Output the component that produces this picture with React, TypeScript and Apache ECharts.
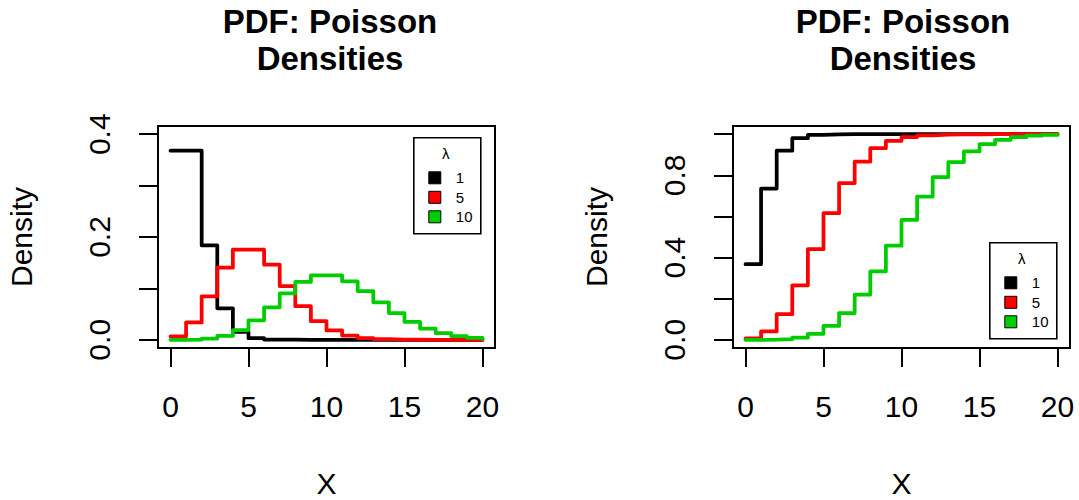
import React, { useEffect, useRef } from "react";
import * as echarts from "echarts";

// Support of the distributions
const xValues = [0, 1, 2, 3, 4, 5, 6, 7, 8, 9, 10, 11, 12, 13, 14, 15, 16, 17, 18, 19, 20];

const lambdas = ["1", "5", "10"];
const colors = ["#000000", "#FF0000", "#00CD00"];

// Poisson probability mass
const pdfLambda1 = [0.367879, 0.367879, 0.18394, 0.061313, 0.015328, 0.003066, 0.000511, 0.000073, 0.000009, 0.000001, 0, 0, 0, 0, 0, 0, 0, 0, 0, 0, 0];
const pdfLambda5 = [0.006738, 0.03369, 0.084224, 0.140374, 0.175467, 0.175467, 0.146223, 0.104445, 0.065278, 0.036266, 0.018133, 0.008242, 0.003434, 0.001321, 0.000472, 0.000157, 0.000049, 0.000014, 0.000004, 0.000001, 0];
const pdfLambda10 = [0.000045, 0.000454, 0.00227, 0.007567, 0.018917, 0.037833, 0.063055, 0.090079, 0.112599, 0.12511, 0.12511, 0.113736, 0.09478, 0.072908, 0.052077, 0.034718, 0.021699, 0.012764, 0.007091, 0.003732, 0.001866];

// Cumulative distribution
const cdfLambda1 = [0.367879, 0.735759, 0.919699, 0.981012, 0.99634, 0.999406, 0.999917, 0.99999, 0.999999, 1, 1, 1, 1, 1, 1, 1, 1, 1, 1, 1, 1];
const cdfLambda5 = [0.006738, 0.040428, 0.124652, 0.265026, 0.440493, 0.615961, 0.762183, 0.866628, 0.931906, 0.968172, 0.986305, 0.994547, 0.997981, 0.999302, 0.999774, 0.999931, 0.99998, 0.999995, 0.999999, 1, 1];
const cdfLambda10 = [0.000045, 0.000499, 0.002769, 0.010336, 0.029253, 0.067086, 0.130141, 0.220221, 0.33282, 0.45793, 0.58304, 0.696776, 0.791556, 0.864464, 0.916542, 0.95126, 0.972958, 0.985722, 0.992813, 0.996546, 0.998412];

const xTicks = [0, 5, 10, 15, 20];
const pdfTicks = [0, 0.1, 0.2, 0.3, 0.4];
const pdfLabels = [0, 0.2, 0.4];
const cdfTicks = [0, 0.2, 0.4, 0.6, 0.8, 1.0];
const cdfLabels = [0, 0.4, 0.8];

const titleLines = ["PDF: Poisson", "Densities"];
const xName = "X";
const yName = "Density";

const FONT = "'Liberation Sans', Arial, Helvetica, sans-serif";

const pairs = (ys: number[]) => xValues.map((x, i) => [x, ys[i]]);

function legendGraphic(left: number, top: number) {
  const textStyle = { fontSize: 15, fontFamily: FONT, fill: "#000" };
  const children: any[] = [
    {
      type: "rect",
      shape: { x: 0, y: 0, width: 67, height: 96 },
      style: { fill: "#fff", stroke: "#000", lineWidth: 1.6 },
    },
    {
      type: "text",
      x: 32,
      y: 16,
      style: { ...textStyle, text: "λ", align: "center", verticalAlign: "middle" },
    },
  ];
  lambdas.forEach((name, i) => {
    const cy = 40 + i * 19.5;
    children.push({
      type: "rect",
      shape: { x: 15, y: cy - 6, width: 12, height: 12 },
      style: { fill: colors[i], stroke: "#000", lineWidth: 1 },
    });
    children.push({
      type: "text",
      x: 42,
      y: cy,
      style: { ...textStyle, text: name, align: "left", verticalAlign: "middle" },
    });
  });
  return { type: "group", left, top, z: 100, children };
}

// Two-line bold heading, one title entry per line
function titles(centerX: number) {
  return titleLines.map((line, i) => ({
    text: line,
    left: centerX,
    top: 2.5 + i * 37.3,
    padding: 0,
    textAlign: "center",
    textStyle: { fontSize: 33, fontWeight: "bold", fontFamily: FONT, color: "#000", lineHeight: 37 },
  }));
}

export default function App() {
  const ref = useRef<HTMLDivElement>(null);

  useEffect(() => {
    if (!ref.current) return;
    const chart = echarts.init(ref.current, undefined, { renderer: "svg" });

    const xAxisBase = (gridIndex: number) => ({
      type: "value",
      gridIndex,
      min: -0.8,
      max: 20.8,
      name: xName,
      nameLocation: "middle",
      nameGap: 120,
      nameTextStyle: { fontSize: 30, fontFamily: FONT, color: "#000", lineHeight: 30 },
      axisLine: { show: false, onZero: false },
      splitLine: { show: false },
      axisTick: {
        show: true,
        length: 19,
        customValues: xTicks,
        lineStyle: { color: "#000", width: 2 },
      },
      axisLabel: {
        customValues: xTicks,
        margin: 43,
        fontSize: 30,
        lineHeight: 30,
        fontFamily: FONT,
        color: "#000",
      },
    });

    const yAxisBase = (gridIndex: number, min: number, max: number, ticks: number[], labels: number[]) => ({
      type: "value",
      gridIndex,
      min,
      max,
      name: yName,
      nameLocation: "middle",
      nameRotate: 90,
      nameGap: 122,
      nameTextStyle: { fontSize: 30, fontFamily: FONT, color: "#000", lineHeight: 30 },
      axisLine: { show: false, onZero: false },
      splitLine: { show: false },
      axisTick: {
        show: true,
        length: 19,
        customValues: ticks,
        lineStyle: { color: "#000", width: 2 },
      },
      axisLabel: {
        customValues: labels,
        rotate: 90,
        margin: 43.5,
        fontSize: 30,
        lineHeight: 30,
        fontFamily: FONT,
        color: "#000",
        formatter: (v: number) => v.toFixed(1),
      },
    });

    const stepSeries = (ys: number[], i: number, idx: number) => ({
      type: "line",
      xAxisIndex: idx,
      yAxisIndex: idx,
      step: "end",
      symbol: "none",
      data: pairs(ys),
      lineStyle: { color: colors[i], width: 3.75, cap: "round", join: "round" },
      z: 2 + i,
    });

    chart.setOption({
      animation: false,
      backgroundColor: "#fff",
      title: [...titles(330), ...titles(903)],
      grid: [
        { left: 158, right: 584, top: 126, bottom: 152, show: true, borderColor: "#000", borderWidth: 2, backgroundColor: "transparent" },
        { left: 733, right: 9, top: 126, bottom: 152, show: true, borderColor: "#000", borderWidth: 2, backgroundColor: "transparent" },
      ],
      xAxis: [xAxisBase(0), xAxisBase(1)],
      yAxis: [
        yAxisBase(0, -0.016, 0.416, pdfTicks, pdfLabels),
        yAxisBase(1, -0.04, 1.04, cdfTicks, cdfLabels),
      ],
      series: [
        stepSeries(pdfLambda1, 0, 0),
        stepSeries(pdfLambda5, 1, 0),
        stepSeries(pdfLambda10, 2, 0),
        stepSeries(cdfLambda1, 0, 1),
        stepSeries(cdfLambda5, 1, 1),
        stepSeries(cdfLambda10, 2, 1),
      ],
      graphic: [legendGraphic(413, 137), legendGraphic(989, 242)],
    });

    return () => chart.dispose();
  }, []);

  return (
    <div
      ref={ref}
      style={{ position: "fixed", left: 0, top: 0, width: 1079, height: 500, background: "#fff" }}
    />
  );
}
